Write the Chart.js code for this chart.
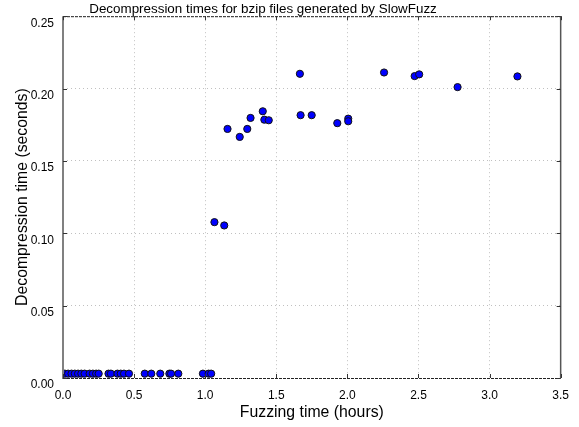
<!DOCTYPE html>
<html>
<head>
<meta charset="utf-8">
<script src="https://cdn.jsdelivr.net/npm/chart.js@4"></script>
<style>
  html, body { margin: 0; padding: 0; background: #fff; }
  #wrap { width: 579px; height: 427px; }
</style>
</head>
<body>
<div id="wrap"><canvas id="chart" width="579" height="427"></canvas></div>
<script>
// ------------------------- Data -------------------------
const chartTitle = 'Decompression times for bzip files generated by SlowFuzz';
const xTitle = 'Fuzzing time (hours)';
const yTitle = 'Decompression time (seconds)';

// fuzzing time (hours)
const hours = [
  0.013, 0.036, 0.06, 0.083, 0.106, 0.129, 0.152, 0.187, 0.21, 0.233, 0.251,
  0.32, 0.337, 0.383, 0.406, 0.429, 0.464, 0.575, 0.621, 0.684, 0.748, 0.76,
  0.811, 0.984, 1.024, 1.042,
  1.065, 1.134, 1.157, 1.243, 1.296, 1.319, 1.405, 1.416, 1.447,
  1.666, 1.671, 1.749, 1.929, 2.006, 2.006, 2.258, 2.473, 2.505, 2.775, 3.196
];
// decompression time (seconds)
const seconds = [
  0.003, 0.003, 0.003, 0.003, 0.003, 0.003, 0.003, 0.003, 0.003, 0.003, 0.003,
  0.003, 0.003, 0.003, 0.003, 0.003, 0.003, 0.003, 0.003, 0.003, 0.003, 0.003,
  0.003, 0.003, 0.003, 0.003,
  0.1077, 0.1054, 0.1721, 0.1666, 0.1721, 0.1797, 0.1843, 0.1785, 0.1781,
  0.2102, 0.1816, 0.1816, 0.1761, 0.1792, 0.1774, 0.2111, 0.2086, 0.2098, 0.2010, 0.2084
];

const xTicks = [0, 0.5, 1, 1.5, 2, 2.5, 3, 3.5];
const yTicks = [0, 0.05, 0.1, 0.15, 0.2, 0.25];

const points = hours.map((h, i) => ({ x: h, y: seconds[i] }));

// ------------------------- Frame plugin -------------------------
const FONT = '"Liberation Sans", Arial, Helvetica, sans-serif';

const framePlugin = {
  id: 'frame',
  afterDraw(chart) {
    const { ctx, chartArea: a, scales } = chart;
    ctx.save();

    // top + bottom dashed
    ctx.setLineDash([3, 1]);
    ctx.lineWidth = 1;
    ctx.strokeStyle = '#222';
    ctx.beginPath();
    ctx.moveTo(a.left, a.top + 0.5);
    ctx.lineTo(a.right, a.top + 0.5);
    ctx.moveTo(a.left, a.bottom + 0.5);
    ctx.lineTo(a.right, a.bottom + 0.5);
    ctx.stroke();

    // right
    ctx.setLineDash([]);
    ctx.strokeStyle = '#555';
    ctx.lineWidth = 1.5;
    ctx.beginPath();
    ctx.moveTo(a.right, a.top);
    ctx.lineTo(a.right, a.bottom);
    ctx.stroke();

    // left solid gray
    ctx.strokeStyle = '#808080';
    ctx.lineWidth = 2;
    ctx.beginPath();
    ctx.moveTo(a.left, a.top);
    ctx.lineTo(a.left, a.bottom + 1);
    ctx.stroke();

    // inward tick marks
    ctx.strokeStyle = '#333';
    ctx.lineWidth = 1;
    ctx.beginPath();
    xTicks.forEach(v => {
      const px = Math.round(scales.x.getPixelForValue(v)) + 0.5;
      ctx.moveTo(px, a.bottom);
      ctx.lineTo(px, a.bottom - 4);
      ctx.moveTo(px, a.top);
      ctx.lineTo(px, a.top + 4);
    });
    yTicks.forEach(v => {
      const py = Math.round(scales.y.getPixelForValue(v)) + 0.5;
      ctx.moveTo(a.right, py);
      ctx.lineTo(a.right - 4, py);
      ctx.moveTo(a.left, py);
      ctx.lineTo(a.left + 4, py);
    });
    ctx.stroke();

    // title
    ctx.fillStyle = '#000';
    ctx.font = '13.4px ' + FONT;
    ctx.textAlign = 'center';
    ctx.textBaseline = 'alphabetic';
    ctx.fillText(chartTitle, 263, 13);

    ctx.restore();
  }
};

// ------------------------- Chart -------------------------
const ctx = document.getElementById('chart').getContext('2d');
new Chart(ctx, {
  type: 'scatter',
  data: {
    datasets: [{
      data: points,
      backgroundColor: '#0000ff',
      borderColor: '#111',
      borderWidth: 1,
      pointRadius: 3.6,
      pointHoverRadius: 3.6
    }]
  },
  options: {
    responsive: false,
    animation: false,
    layout: { padding: { top: 15, right: 11, left: 0, bottom: 0 } },
    plugins: {
      legend: { display: false },
      tooltip: { enabled: false },
      title: { display: false }
    },
    scales: {
      x: {
        type: 'linear',
        min: 0,
        max: 3.5,
        afterBuildTicks: s => { s.ticks = xTicks.map(v => ({ value: v })); },
        afterFit: s => { s.height = 49; },
        grid: { color: '#c0c0c0', lineWidth: 1, drawTicks: false },
        border: { display: false, dash: [1, 3] },
        ticks: {
          color: '#000',
          font: { family: FONT, size: 12 },
          padding: 10,
          maxRotation: 0,
          callback: v => v.toFixed(1)
        },
        title: {
          display: true,
          text: xTitle,
          color: '#000',
          font: { family: FONT, size: 15.8 },
          padding: { top: 0, bottom: 5 }
        }
      },
      y: {
        type: 'linear',
        min: 0,
        max: 0.25,
        afterBuildTicks: s => { s.ticks = yTicks.map(v => ({ value: v })); },
        afterFit: s => { s.width = 63; },
        grid: { color: '#c0c0c0', lineWidth: 1, drawTicks: false },
        border: { display: false, dash: [1, 3] },
        ticks: {
          color: '#000',
          font: { family: FONT, size: 12 },
          padding: 9,
          labelOffset: 7,
          callback: v => v.toFixed(2)
        },
        title: {
          display: true,
          text: yTitle,
          color: '#000',
          font: { family: FONT, size: 15.8 },
          padding: { top: 13, bottom: 0 }
        }
      }
    }
  },
  plugins: [framePlugin]
});
</script>
</body>
</html>
